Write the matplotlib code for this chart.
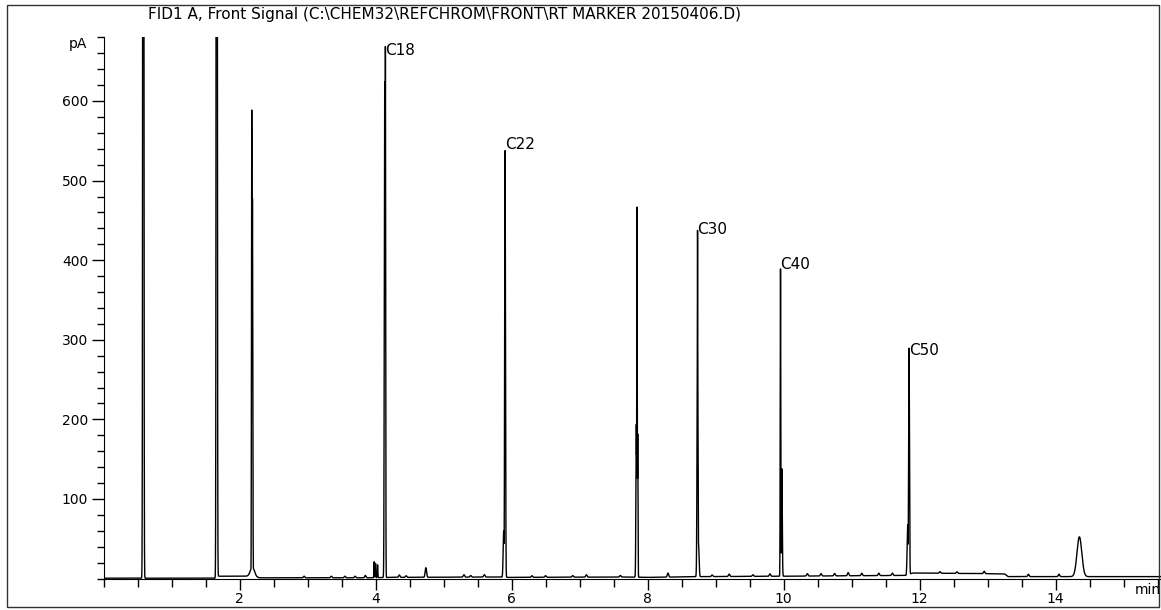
import numpy as np
import matplotlib.pyplot as plt
from matplotlib.patches import Rectangle
from matplotlib.ticker import MultipleLocator

plt.rcParams['font.family'] = ['DejaVu Sans']

# peak table (min, pA, width in min)
peak_times = [0.575, 0.585, 1.655, 1.665, 2.19, 2.18, 2.19, 3.98, 4.00, 4.03,
              4.135, 4.145, 5.885, 5.905, 7.835, 7.845, 7.855, 8.735, 8.735,
              8.75, 9.955, 9.975, 11.825, 11.845, 14.35]
peak_heights = [290, 3000, 155, 3000, 12, 586, 475, 20, 18, 16,
                623, 667, 58, 536, 192, 465, 180, 435, 312,
                40, 386, 135, 63, 284, 50]
peak_widths = [0.004, 0.006, 0.004, 0.006, 0.03, 0.004, 0.005, 0.004, 0.004, 0.004,
               0.006, 0.004, 0.008, 0.006, 0.006, 0.004, 0.004, 0.004, 0.007,
               0.008, 0.004, 0.006, 0.008, 0.006, 0.035]

# small baseline bumps
bump_times = [2.95, 3.35, 3.55, 3.7, 3.85, 4.35, 4.45, 4.74, 5.3, 5.4, 5.6, 6.3,
              6.5, 6.9, 7.1, 7.6, 8.3, 8.95, 9.2, 9.55, 9.8, 10.35, 10.55, 10.75,
              10.95, 11.15, 11.4, 11.6, 12.3, 12.55, 12.95, 13.6, 14.05]
bump_heights = [2, 2, 2, 2, 3, 3, 2, 12, 3, 2, 3, 2,
                2, 2, 3, 2, 5, 2, 3, 2, 3, 3, 3, 3,
                4, 3, 3, 3, 2, 2, 3, 3, 3]

# baseline level
base_t = [0, 1.66, 1.67, 2.15, 2.3, 3.9, 4.2, 5.8, 5.95, 7.7, 8.0, 8.8, 10.0,
          11.8, 11.9, 13.25, 13.3, 15.6]
base_y = [0.5, 0.5, 3, 3, 1, 1, 1.5, 2, 1.5, 2, 1.5, 2.5, 3,
          4, 7, 6, 2.5, 2.5]

labels = ['C18', 'C22', 'C30', 'C40', 'C50']
label_t = [4.145, 5.905, 8.735, 9.955, 11.845]
label_y = [664, 545, 439, 395, 287]

t = np.arange(0, 15.6, 0.0005)
comps = [np.interp(t, base_t, base_y)]
for rt, h, w in zip(peak_times, peak_heights, peak_widths):
    comps.append(h * np.exp(-0.5 * ((t - rt) / w) ** 2))
for rt, h in zip(bump_times, bump_heights):
    comps.append(h * np.exp(-0.5 * ((t - rt) / 0.01) ** 2))
signal = np.maximum.reduce(comps[1:]) + comps[0]

fig = plt.figure(figsize=(11.61, 6.10), dpi=100)
ax = fig.add_axes([103.5 / 1161, 31.4 / 610, 1 - 103.5 / 1161, 541.3 / 610])
ax.plot(t, signal, color='black', lw=1.0)

ax.set_xlim(0, 15.55)
ax.set_ylim(0, 680)
ax.spines['top'].set_visible(False)
ax.spines['right'].set_visible(False)
ax.set_xticks([2, 4, 6, 8, 10, 12, 14])
ax.xaxis.set_minor_locator(MultipleLocator(0.5))
ax.set_yticks([100, 200, 300, 400, 500, 600])
ax.yaxis.set_minor_locator(MultipleLocator(20))
ax.tick_params(axis='both', which='major', width=1, labelsize=10, pad=2)
ax.tick_params(axis='x', which='major', length=8)
ax.tick_params(axis='x', which='minor', length=6, width=1)
ax.tick_params(axis='y', which='major', length=9)
ax.tick_params(axis='y', which='minor', length=5, width=1)

ax.text(-0.0155, 672, 'pA', transform=ax.get_yaxis_transform(), ha='right',
        va='center', fontsize=10)
fig.text(1148 / 1161, 1 - 590 / 610, 'min', ha='center', va='center', fontsize=10)

for lab, x, y in zip(labels, label_t, label_y):
    ax.annotate(lab, (x, y), xytext=(0, 0), textcoords='offset points',
                ha='left', va='center', fontsize=11)

fig.text(148 / 1161, 1 - 14 / 610, 'FID1 A, Front Signal (C:\\CHEM32\\REFCHROM\\FRONT\\RT MARKER 20150406.D)',
         ha='left', va='center', fontsize=11)
fig.patches.append(Rectangle((7 / 1161, 3 / 610), 1152 / 1161, 602 / 610,
                             transform=fig.transFigure, fill=False,
                             edgecolor='#333333', lw=1))

fig.savefig('out.png', dpi=100)
